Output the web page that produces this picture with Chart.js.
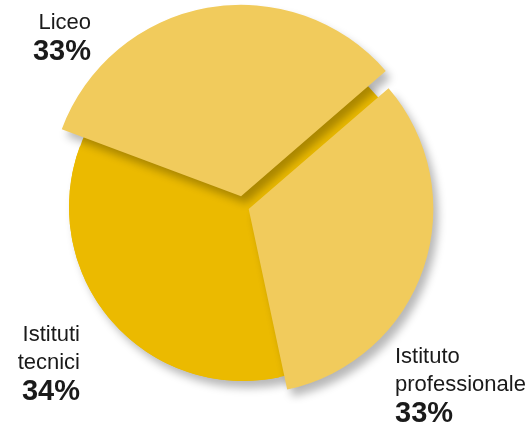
<!DOCTYPE html>
<html><head><meta charset="utf-8">
<script src="https://cdn.jsdelivr.net/npm/chart.js@4"></script>
<style>html,body{margin:0;padding:0;background:#fff}#wrap{width:529px;height:427px;position:relative}</style>
</head><body><div id="wrap"><canvas id="c"></canvas></div>
<script>
// ---- data ----
const categories = ['Istituti tecnici', 'Liceo', 'Istituto professionale'];
const shares = [34, 33, 33];

// ---- styles / layout ----
const sliceColors = ['#EBBA00', '#F1CB5C', '#F1CB5C'];
const sliceOffsets = [0, 44, 24];
const sliceRadiusScale = [1, 1.092, 1.057];
const sliceShadow = [false, true, true];
const labelAnchors = [
  {x: 80, y: 400, align: 'right'},
  {x: 91, y: 60, align: 'right'},
  {x: 395, y: 422, align: 'left'}
];
const SHADOW = {color: 'rgba(0,0,0,0.28)', blur: 8, dx: 5, dy: 7};
const FONT = '"Liberation Sans", Arial, sans-serif';

function applyShadow(ctx) {
  ctx.shadowColor = SHADOW.color;
  ctx.shadowBlur = SHADOW.blur;
  ctx.shadowOffsetX = SHADOW.dx;
  ctx.shadowOffsetY = SHADOW.dy;
}

const pieDecor = {
  id: 'pieDecor',
  afterDatasetUpdate(chart, args) {
    const meta = args.meta;
    meta.data.forEach((arc, i) => {
      arc.outerRadius = arc.outerRadius * sliceRadiusScale[i];
      if (!arc._wrapped) {
        const orig = arc.draw;
        arc.draw = function (ctx, area) {
          ctx.save();
          if (sliceShadow[i]) applyShadow(ctx);
          orig.call(this, ctx, area);
          ctx.restore();
        };
        arc._wrapped = true;
      }
    });
  },
  beforeDatasetsDraw(chart) {
    const meta = chart.getDatasetMeta(0);
    const a0 = meta.data[0];
    const ctx = chart.ctx;
    ctx.save();
    applyShadow(ctx);
    ctx.fillStyle = sliceColors[0];
    ctx.beginPath();
    ctx.arc(a0.x, a0.y, a0.outerRadius / sliceRadiusScale[0], 0, Math.PI * 2);
    ctx.fill();
    ctx.restore();
  },
  afterDraw(chart) {
    const ctx = chart.ctx;
    ctx.save();
    ctx.fillStyle = '#1a1a1a';
    ctx.textBaseline = 'alphabetic';
    categories.forEach((name, i) => {
      const a = labelAnchors[i];
      ctx.textAlign = a.align;
      ctx.font = 'bold 29px ' + FONT;
      ctx.fillText(shares[i] + '%', a.x, a.y);
      ctx.font = '22px ' + FONT;
      const lines = name.split(' ');
      const n = lines.length;
      lines.forEach((ln, j) => {
        ctx.fillText(ln, a.x, a.y - 31.5 - (n - 1 - j) * 27.5);
      });
    });
    ctx.restore();
  }
};

new Chart(document.getElementById('c'), {
  type: 'pie',
  data: {
    labels: categories,
    datasets: [{
      data: shares,
      backgroundColor: sliceColors,
      borderWidth: 0,
      offset: sliceOffsets,
      clip: false
    }]
  },
  options: {
    responsive: true,
    maintainAspectRatio: false,
    animation: false,
    events: [],
    rotation: 168,
    radius: 174,
    layout: {padding: {left: 0, right: 43, top: 0, bottom: 13}},
    plugins: {legend: {display: false}, tooltip: {enabled: false}}
  },
  plugins: [pieDecor]
});
</script>
</body></html>
